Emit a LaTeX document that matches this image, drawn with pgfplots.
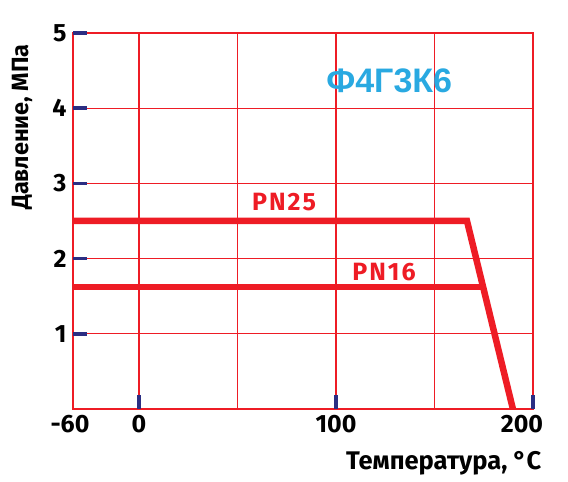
\documentclass[border=0pt]{standalone}
\usepackage{pgfplots}
\pgfplotsset{compat=1.18}
\usepackage{fontspec}
\setmainfont{Fira Sans}
\newfontfamily\titlefont{Liberation Sans}
\newfontfamily\pnfont[LetterSpace=8]{Fira Sans}
\definecolor{gridred}{HTML}{EE1C25}
\definecolor{tickblue}{HTML}{2B2E83}
\definecolor{titleblue}{HTML}{29A9E1}

\pgfplotsset{
  frame/.style={
    scale only axis,
    width=460pt, height=376pt,
    xmin=-33.5, xmax=200,   % left edge is labelled -60 (compressed scale)
    ymin=0, ymax=5,
  },
}

\begin{document}
\begin{tikzpicture}
  % grid, labels and curves
  \begin{axis}[
      frame,
      xtick={0,100,200},
      xticklabels={0,100,{200\hspace*{22pt}}},
      minor xtick={50,150},
      extra x ticks={-33.5},
      extra x tick labels={{-60\hspace*{6pt}}},
      ytick={1,2,3,4,5},
      major tick length=0pt, minor tick length=0pt,
      grid=both,
      major grid style={gridred, line width=1.2pt},
      minor grid style={gridred, line width=1.2pt},
      axis line style={gridred, line width=1.5pt},
      ticklabel style={font=\fontsize{25}{28}\selectfont\bfseries},
      xticklabel style={yshift=-3pt},
      yticklabel style={xshift=-3pt},
      /pgf/number format/assume math mode=true,
      xlabel={Температура, °C},
      ylabel={Давление, МПа},
      xlabel style={font=\fontsize{25.5}{28}\selectfont\bfseries,
        at={(axis description cs:1.026,-0.144)}, anchor=east},
      ylabel style={font=\fontsize{23.5}{26}\selectfont\bfseries,
        at={(axis description cs:-0.111,0.75)}, anchor=center},
      clip=false,
    ]
    % PN25
    \addplot[gridred, line width=6.5pt, line join=miter] coordinates {
      (-33.5, 2.5) (166.5, 2.5) (189.8, 0)
    };
    % PN16
    \addplot[gridred, line width=6.5pt] coordinates {
      (-33.5, 1.62) (175, 1.62)
    };
    \node[text=gridred, font=\pnfont\fontsize{25}{28}\selectfont\bfseries] at (axis cs:73.6,2.75) {PN25};
    \node[text=gridred, font=\pnfont\fontsize{25}{28}\selectfont\bfseries] at (axis cs:124.4,1.82) {PN16};
    \node[text=titleblue, font=\titlefont\fontsize{34}{36}\selectfont\bfseries] at (axis cs:127,4.37) {Ф4Г3К6};
  \end{axis}
  % blue tick marks drawn on top of the grid
  \begin{axis}[
      frame,
      axis line style={draw=none},
      xtick={0,100,200}, ytick={1,2,3,4,5},
      xticklabels={}, yticklabels={},
      xtick pos=bottom, ytick pos=left,
      tick align=inside,
      major tick length=14pt,
      tick style={tickblue, line width=3.5pt},
    ]
  \end{axis}
  \pgfresetboundingbox
  \path (-73pt,-73pt) rectangle (495pt,409pt);
\end{tikzpicture}
\end{document}
